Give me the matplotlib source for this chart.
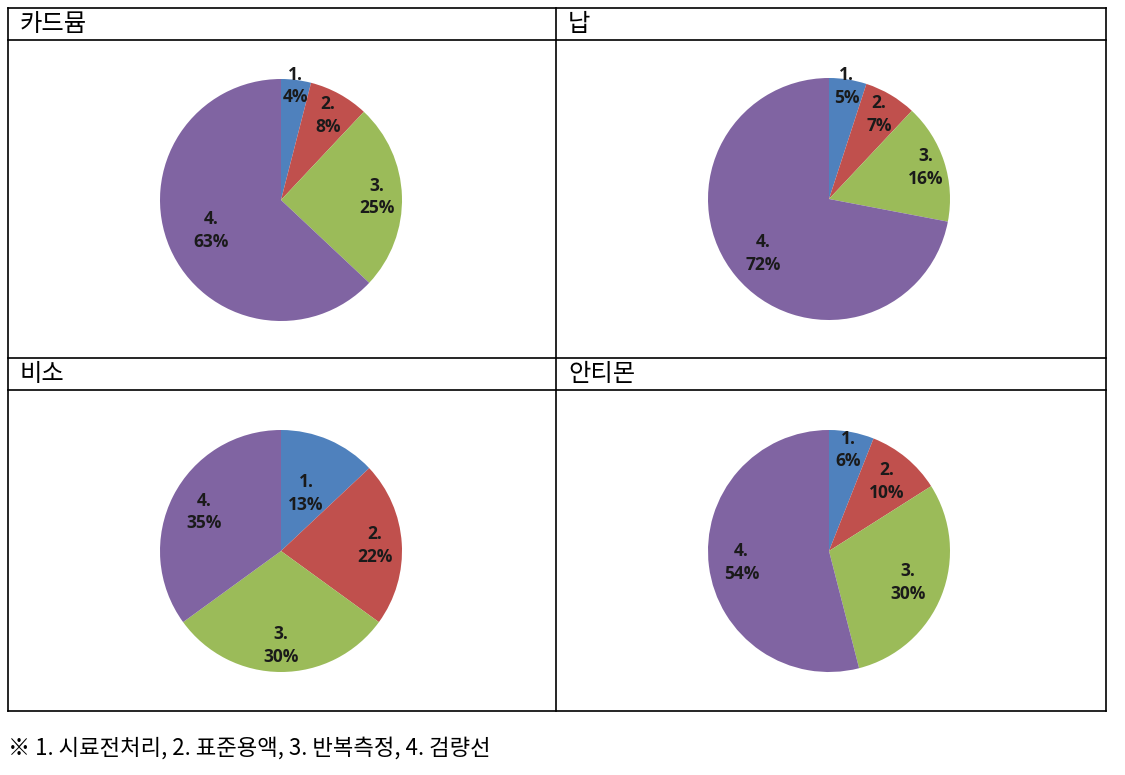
import matplotlib
matplotlib.use("Agg")
import numpy as np
import matplotlib.pyplot as plt
from matplotlib.lines import Line2D

plt.rcParams['font.family'] = ['Noto Sans CJK KR', 'DejaVu Sans']

# data
titles = ["카드뮴", "납", "비소", "안티몬"]
cadmium = [4, 8, 25, 63]
lead = [5, 7, 16, 72]
arsenic = [13, 22, 30, 35]
antimony = [6, 10, 30, 54]
series = [cadmium, lead, arsenic, antimony]
labels = ["1.", "2.", "3.", "4."]
note = "※ 1. 시료전처리, 2. 표준용액, 3. 반복측정, 4. 검량선"

colors = ["#4F81BD", "#C0504D", "#9BBB59", "#8064A2"]
# label distance from centre (fraction of radius), per chart
label_dist = [
    [0.95, 0.80, 0.79, 0.63],
    [0.94, 0.81, 0.84, 0.71],
    [0.52, 0.78, 0.78, 0.71],
    [0.85, 0.75, 0.70, 0.73],
]

W, H = 1125, 775
fig = plt.figure(figsize=(W / 100, H / 100), dpi=100, facecolor="white")

def fx(x):
    return x / W

def fy(y):
    return 1 - y / H

def hline(y, x0, x1):
    fig.add_artist(Line2D([fx(x0), fx(x1)], [fy(y), fy(y)], color="black", lw=1.2))

def vline(x, y0, y1):
    fig.add_artist(Line2D([fx(x), fx(x)], [fy(y0), fy(y1)], color="black", lw=1.2))

# table grid
left, mid, right = 8, 556, 1106
rows = [8, 40, 358, 390, 711]
for y in rows:
    hline(y, left, right)
for x in (left, mid, right):
    vline(x, rows[0], rows[-1])

cells = [(left, 8), (mid, 8), (left, 358), (mid, 358)]
centres = [(281, 200), (829, 199), (281, 551), (829, 551)]
R = 121

for i in range(4):
    cx, cy = cells[i]
    fig.text(fx(cx + 12), fy(cy + 16), titles[i], fontsize=17.5, va="center", ha="left")

    px, py = centres[i]
    ax = fig.add_axes([fx(px - R), fy(py + R), 2 * R / W, 2 * R / H])
    wedges, _ = ax.pie(series[i], colors=colors, startangle=90, counterclock=False,
                       wedgeprops=dict(linewidth=0))
    for j, w in enumerate(wedges):
        ang = np.deg2rad((w.theta1 + w.theta2) / 2)
        d = label_dist[i][j]
        ax.text(d * np.cos(ang), d * np.sin(ang), f"{labels[j]}\n{series[i][j]}%",
                ha="center", va="center", fontsize=12.5, fontweight="bold",
                family=["Open Sans", "DejaVu Sans"], linespacing=1.35, color="#1a1a1a")
    ax.set_xlim(-1, 1)
    ax.set_ylim(-1, 1)
    ax.set_aspect("equal")
    ax.axis("off")

fig.text(fx(8), fy(748), note, fontsize=16, va="center", ha="left")

fig.savefig("out.png", dpi=100, facecolor="white")
